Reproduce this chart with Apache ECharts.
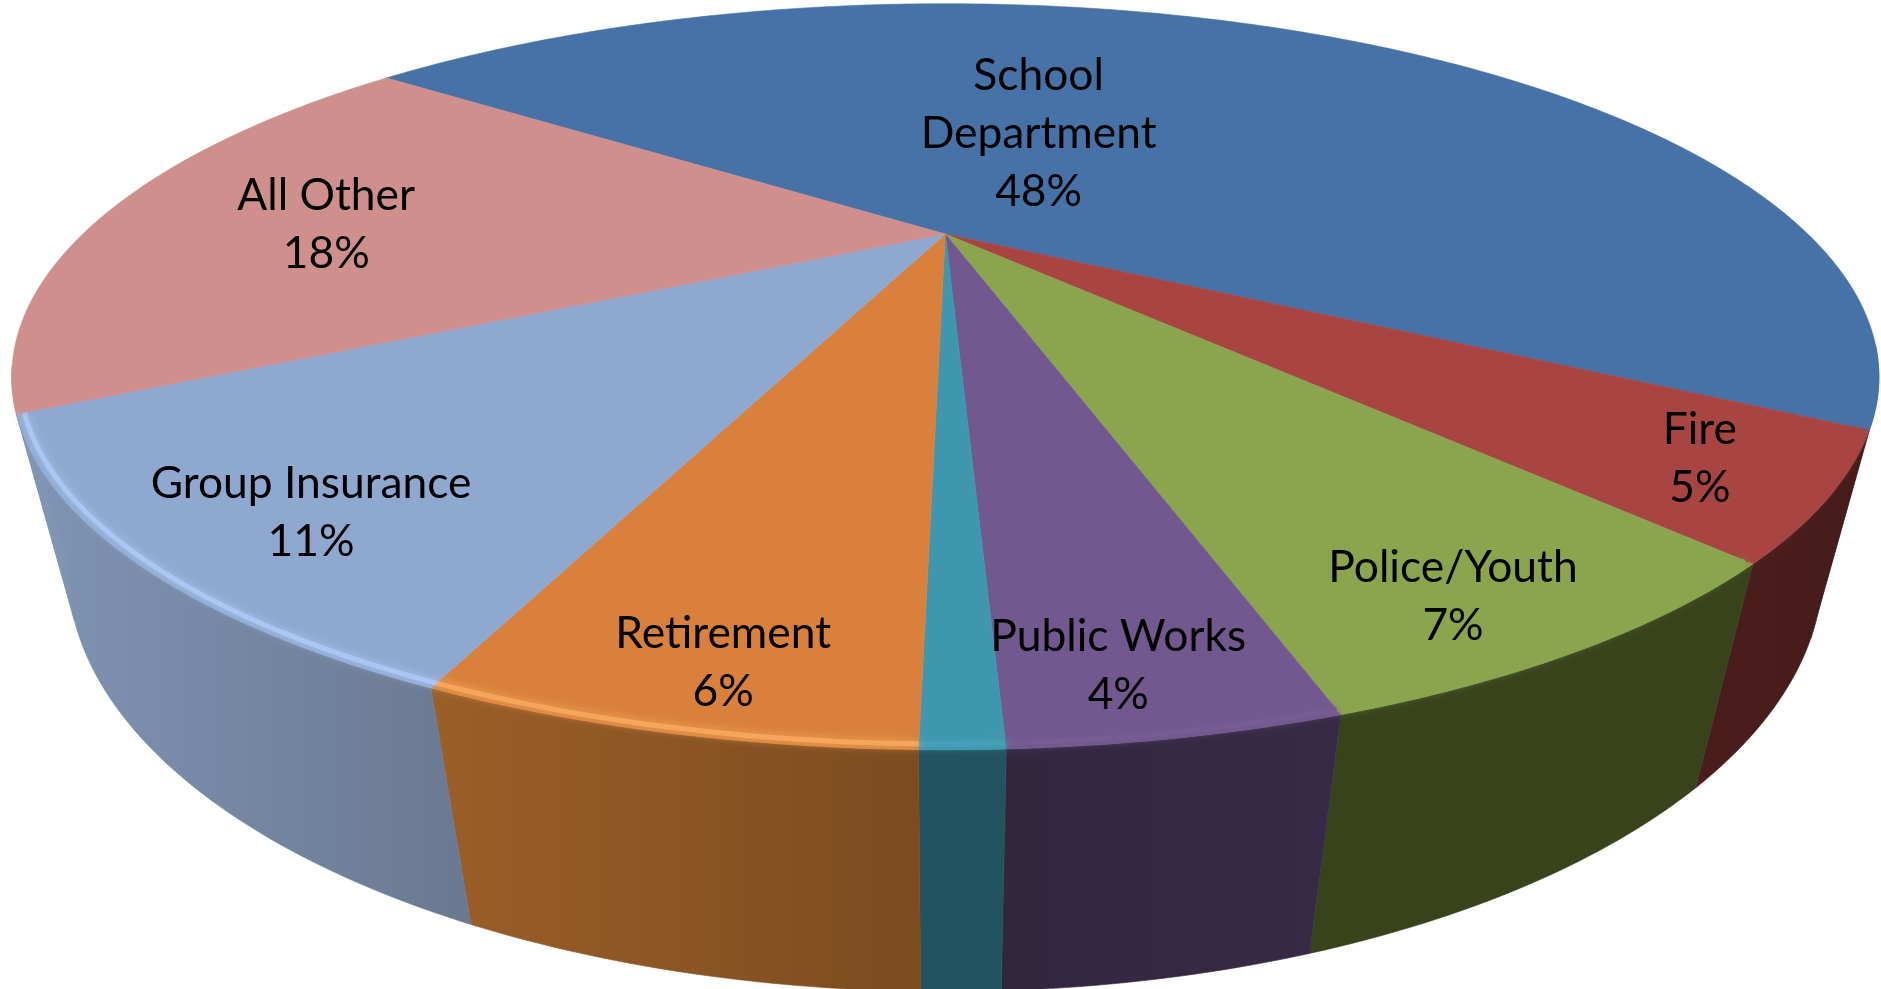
<!DOCTYPE html>
<html>
<head>
<meta charset="utf-8">
<style>html,body{margin:0;padding:0;background:#fff}#chart{width:1881px;height:989px}</style>
<script src="https://cdn.jsdelivr.net/npm/echarts@6/dist/echarts.min.js"></script>
</head>
<body>
<div id="chart"></div>
<script>
// Budget shares, clockwise from the School Department slice.
const categories = ['School\nDepartment', 'Fire', 'Police/Youth', 'Public Works', null, 'Retirement', 'Group Insurance', 'All Other'];
const shares = [48, 5, 7, 4, 1, 6, 11, 18];

const topColors = ['#4672a8', '#a84441', '#8aa54e', '#71588f', '#3f97af', '#d9813c', '#8fa8d0', '#cf8f8c'];
const wallLeft = ['#2a4465', '#4a1d1b', '#38431c', '#32263f', '#215361', '#9b5f28', '#8094b5', '#8094b5'];
const wallRight = ['#2a4465', '#451c1a', '#38431c', '#372a46', '#215361', '#7c4b20', '#6a7991', '#8094b5'];
const rimColors = ['#4672a8', '#a84441', '#8aa54e', '#755c93', '#43a0b8', '#f6a65c', '#abc6f3', '#cf8f8c'];

// Label anchors on the unit disc (u to the right, v towards the viewer).
const labelSpots = [[0.123, -0.358], [0.689, 0.555], [0.41, 0.793], [0.132, 0.893], null, [-0.17, 0.888], [-0.551, 0.655], [-0.726, -0.03]];

// Perspective camera for the tilted disc and its extruded wall.
const view = { cx: 945.3, cy: 234, a: 862.5, b: 318.4, depth: 190.7, k: 0.3827, m: 0.0547 };
const startDeg = -52.9;
const wallFrom = 108, wallTo = 249, rimFrom = 112.5, rimTo = 247.5;
const total = shares.reduce((s, v) => s + v, 0);

function project(u, v, w) {
  const d = 1 - view.k * v + view.m * w;
  return [view.cx + view.a * u / d, view.cy + (view.b * v + view.depth * w) / d];
}
function rimPoint(deg, r, w) {
  const t = deg * Math.PI / 180;
  return project(r * Math.sin(t), -r * Math.cos(t), w);
}
function sliceRange(i) {
  let from = startDeg;
  for (let j = 0; j < i; j++) from += shares[j] / total * 360;
  return [from, from + shares[i] / total * 360];
}
function arc(from, to, r, w) {
  const n = Math.max(2, Math.ceil((to - from) / 0.75));
  const pts = [];
  for (let i = 0; i <= n; i++) pts.push(rimPoint(from + (to - from) * i / n, r, w));
  return pts;
}
function visible(i, lo, hi) {
  const [a, b] = sliceRange(i);
  const from = Math.max(a, lo), to = Math.min(b, hi);
  return to > from ? [from, to] : null;
}

function renderWall(params) {
  const i = params.dataIndex, span = visible(i, wallFrom, wallTo);
  if (!span) return { type: 'group', children: [] };
  const points = arc(span[0], span[1], 1, 0).concat(arc(span[0], span[1], 1, 1).reverse());
  const fill = { type: 'linear', x: 0, y: 0, x2: 1, y2: 0, colorStops: [{ offset: 0, color: wallLeft[i] }, { offset: 1, color: wallRight[i] }] };
  return { type: 'polygon', shape: { points }, style: { fill, stroke: fill, lineWidth: 0.6 } };
}

function renderTop(params) {
  const i = params.dataIndex, [from, to] = sliceRange(i);
  const points = [project(0, 0, 0)].concat(arc(from, to, 1, 0));
  return { type: 'polygon', shape: { points }, style: { fill: topColors[i], stroke: topColors[i], lineWidth: 0.6 } };
}

// Soft bevel where the top face rolls over into the wall.
function renderBevel(params) {
  const i = params.dataIndex, span = visible(i, rimFrom, rimTo);
  if (!span) return { type: 'group', children: [] };
  return {
    type: 'polyline',
    shape: { points: arc(span[0], span[1], 0.993, 0) },
    style: { fill: null, stroke: rimColors[i], lineWidth: 5, shadowColor: rimColors[i], shadowBlur: 9, lineCap: 'butt' }
  };
}

function renderLabel(params, api) {
  const i = params.dataIndex;
  if (!categories[i]) return { type: 'group', children: [] };
  const [x, y] = project(labelSpots[i][0], labelSpots[i][1], 0);
  return {
    type: 'text', x, y, scaleX: 0.985,
    style: {
      text: categories[i] + '\n' + api.value(0) + '%',
      fill: '#000', font: '45px Lato', lineHeight: 58,
      textAlign: 'center', textVerticalAlign: 'middle'
    }
  };
}

const pieSeries = (renderItem, z) => ({
  type: 'custom', coordinateSystem: 'none', data: shares, renderItem, z, silent: true, animation: false, clip: false
});

const chart = echarts.init(document.getElementById('chart'), null, { renderer: 'canvas' });
chart.setOption({
  backgroundColor: '#fff',
  animation: false,
  series: [pieSeries(renderWall, 1), pieSeries(renderTop, 2), pieSeries(renderBevel, 3), pieSeries(renderLabel, 4)]
});
</script>
</body>
</html>
